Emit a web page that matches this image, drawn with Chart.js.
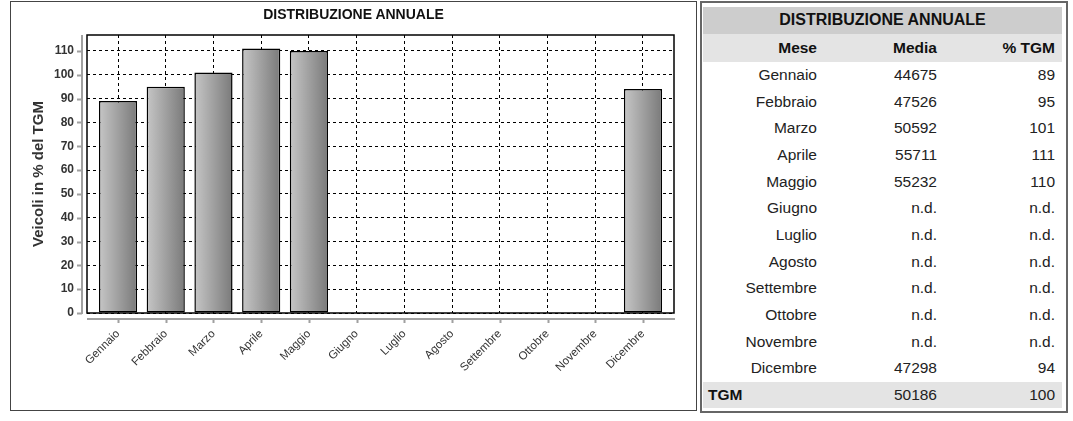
<!DOCTYPE html>
<html>
<head>
<meta charset="utf-8">
<script src="https://cdn.jsdelivr.net/npm/chart.js@4/dist/chart.umd.min.js"></script>
<style>
  body { margin: 0; background: #fff; font-family: "Liberation Sans", Arial, sans-serif; }
  #chart-box { position: absolute; left: 10px; top: 1px; width: 687px; height: 410px; border: 1px solid #444; box-sizing: border-box; }
  #chart-box canvas { position: absolute; left: 0; top: 0; }
  #chart-title { position: absolute; left: 0; top: 4px; width: 100%; text-align: center; font-weight: bold; font-size: 14px; color: #111; }
  #table-box { position: absolute; left: 700px; top: 1px; width: 368px; height: 412px; border: 2px solid #666; box-sizing: border-box; }
  #dist-table { position: absolute; left: 1px; top: 4px; width: 359px; table-layout: fixed; border-collapse: collapse; font-size: 15.5px; color: #222; }
  #dist-table td { padding: 0; height: 26.7px; text-align: right; }
  #dist-table td.c1 { padding-right: 3px; }
  #dist-table td.c2 { padding-right: 3px; }
  #dist-table td.c3 { padding-right: 7px; }
  #dist-table tr.h1 td { background: #cdcdcd; font-weight: bold; text-align: center; height: 26.5px; color: #111; font-size: 16px; }
  #dist-table tr.h2 td { background: #e4e4e4; font-weight: bold; height: 28px; color: #111; }
  #dist-table tr.tot td { background: #e4e4e4; }
  #dist-table tr.tot td.c1 { text-align: left; padding-left: 5px; font-weight: bold; color: #111; }
</style>
</head>
<body>
<div id="chart-box">
  <canvas id="chart" width="685" height="408"></canvas>
  <div id="chart-title">DISTRIBUZIONE ANNUALE</div>
</div>
<div id="table-box">
  <table id="dist-table">
    <colgroup><col style="width:117px"><col style="width:120px"><col style="width:122px"></colgroup>
    <tbody id="dist-body"></tbody>
  </table>
</div>
<script>
// data (n.d. = null)
const mesi = ['Gennaio', 'Febbraio', 'Marzo', 'Aprile', 'Maggio', 'Giugno', 'Luglio', 'Agosto', 'Settembre', 'Ottobre', 'Novembre', 'Dicembre'];
const media = [44675, 47526, 50592, 55711, 55232, null, null, null, null, null, null, 47298];
const percTgm = [89, 95, 101, 111, 110, null, null, null, null, null, null, 94];
const tgmMedia = 50186;
const tgmPerc = 100;

// table on the right
const body = document.getElementById('dist-body');
let rows = '<tr class="h1"><td colspan="3">DISTRIBUZIONE ANNUALE</td></tr>';
rows += '<tr class="h2"><td class="c1">Mese</td><td class="c2">Media</td><td class="c3">% TGM</td></tr>';
mesi.forEach((m, i) => {
  const a = media[i] === null ? 'n.d.' : media[i];
  const b = percTgm[i] === null ? 'n.d.' : percTgm[i];
  rows += `<tr><td class="c1">${m}</td><td class="c2">${a}</td><td class="c3">${b}</td></tr>`;
});
rows += `<tr class="tot"><td class="c1">TGM</td><td class="c2">${tgmMedia}</td><td class="c3">${tgmPerc}</td></tr>`;
body.innerHTML = rows;

// bar fill: horizontal gray gradient per bar
function barFill(ctx) {
  const chart = ctx.chart;
  const x = chart.scales.x;
  if (!chart.chartArea || !x || ctx.dataIndex === undefined) return '#a0a0a0';
  const c = x.getPixelForValue(ctx.dataIndex);
  const half = (x.getPixelForValue(1) - x.getPixelForValue(0)) * 0.4;
  const g = chart.ctx.createLinearGradient(c - half, 0, c + half, 0);
  g.addColorStop(0, '#c6c6c6');
  g.addColorStop(1, '#7a7a7a');
  return g;
}

// frame round the plot and the gray offset axes
const framePlugin = {
  id: 'frame',
  afterDraw(chart) {
    const { ctx, chartArea: a, scales } = chart;
    ctx.save();
    ctx.strokeStyle = '#000';
    ctx.lineWidth = 1.5;
    ctx.strokeRect(a.left, a.top, a.right - a.left, a.bottom - a.top);

    ctx.strokeStyle = '#a0a0a0';
    ctx.lineWidth = 2;
    ctx.beginPath();
    ctx.moveTo(a.left - 5, a.top);
    ctx.lineTo(a.left - 5, a.bottom + 1);
    scales.y.ticks.forEach(t => {
      const y = Math.round(scales.y.getPixelForValue(t.value)) + 0.5;
      ctx.moveTo(a.left - 10, y);
      ctx.lineTo(a.left - 5, y);
    });
    ctx.moveTo(a.left, a.bottom + 6);
    ctx.lineTo(a.right + 1, a.bottom + 6);
    scales.x.ticks.forEach(t => {
      const x = Math.round(scales.x.getPixelForValue(t.value)) + 0.5;
      ctx.moveTo(x, a.bottom + 6);
      ctx.lineTo(x, a.bottom + 10);
    });
    ctx.stroke();
    ctx.restore();
  }
};

new Chart(document.getElementById('chart'), {
  type: 'bar',
  data: {
    datasets: [{
      data: percTgm.map((v, i) => ({ x: i, y: v })),
      backgroundColor: barFill,
      borderColor: '#000',
      borderWidth: 1.5,
      borderSkipped: false,
      barPercentage: 0.8,
      categoryPercentage: 1
    }]
  },
  options: {
    responsive: false,
    animation: false,
    events: [],
    layout: { padding: { top: 33, right: 22, bottom: 0, left: 0 } },
    plugins: { legend: { display: false }, tooltip: { enabled: false } },
    scales: {
      x: {
        type: 'linear',
        min: -0.65,
        max: 11.65,
        offset: false,
        afterBuildTicks: s => { s.ticks = mesi.map((m, i) => ({ value: i })); },
        afterFit: s => { s.height = 97; },
        grid: { color: '#000', offset: false, drawTicks: false },
        border: { display: false, dash: [3, 3] },
        ticks: {
          autoSkip: false,
          maxRotation: 45,
          minRotation: 45,
          padding: 14,
          color: '#333',
          font: { family: 'Liberation Sans', size: 11.5 },
          callback: v => mesi[v]
        }
      },
      y: {
        min: 0,
        max: 116.7,
        afterFit: s => { s.width = 76; },
        grid: { color: '#000', drawTicks: false },
        border: { display: false, dash: [3, 3] },
        ticks: {
          stepSize: 10,
          includeBounds: false,
          padding: 13,
          color: '#333',
          font: { family: 'Liberation Sans', size: 12, weight: 'bold' }
        },
        title: {
          display: true,
          text: 'Veicoli in % del TGM',
          color: '#333',
          padding: { top: 19, bottom: 0 },
          font: { family: 'Liberation Sans', size: 15, weight: 'bold' }
        }
      }
    }
  },
  plugins: [framePlugin]
});
</script>
</body>
</html>
